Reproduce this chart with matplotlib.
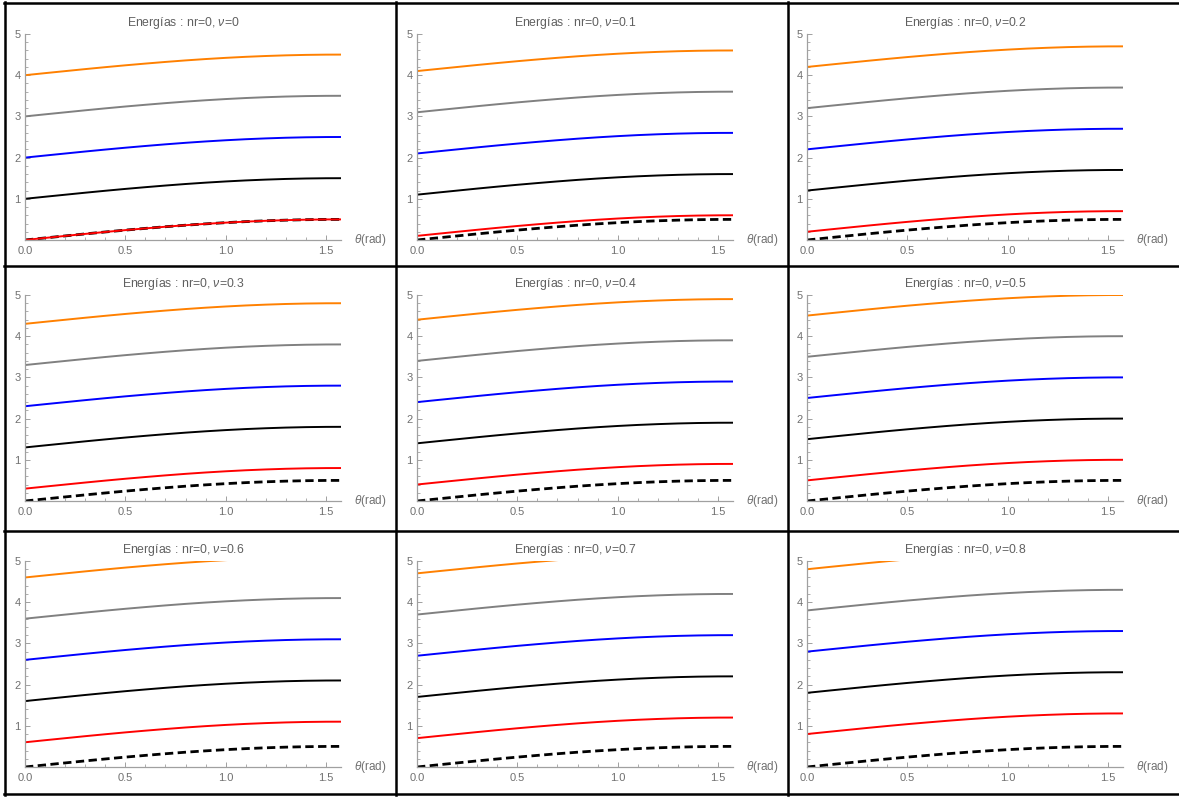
import numpy as np
import matplotlib
matplotlib.use("Agg")
import matplotlib.pyplot as plt
from matplotlib.ticker import MultipleLocator

plt.rcParams['font.family'] = ['Liberation Sans', 'DejaVu Sans']
plt.rcParams['mathtext.fontset'] = 'custom'
plt.rcParams['mathtext.rm'] = 'Liberation Sans'
plt.rcParams['mathtext.it'] = 'Liberation Sans:italic'

# sampled angle (rad) and the lowest (dashed) curve
theta = [0.0, 0.1, 0.2, 0.3, 0.4, 0.5, 0.6, 0.7, 0.8, 0.9, 1.0,
         1.1, 1.2, 1.3, 1.4, 1.5, 1.5708]
base = [0.000, 0.050, 0.099, 0.148, 0.195, 0.240, 0.282, 0.322, 0.359,
        0.392, 0.421, 0.446, 0.466, 0.482, 0.493, 0.499, 0.500]

nu_values = [0, 0.1, 0.2, 0.3, 0.4, 0.5, 0.6, 0.7, 0.8]
nu_labels = ["0", "0.1", "0.2", "0.3", "0.4", "0.5", "0.6", "0.7", "0.8"]
levels = [0, 1, 2, 3, 4]
level_colors = ["#ff0000", "#000000", "#0000ff", "#808080", "#ff8000"]

W, H = 1179, 797
fig = plt.figure(figsize=(W / 100, H / 100), dpi=100)

# pixel positions of each panel origin
x_orig = [25, 417, 807]
y_orig = [240, 501, 767]
ax_w, ax_h = 316, 206

th = np.array(theta)
b = np.array(base)

for k, nu in enumerate(nu_values):
    r, c = divmod(k, 3)
    ax = fig.add_axes([x_orig[c] / W, 1 - y_orig[r] / H, ax_w / W, ax_h / H])

    ax.plot(th, b, color="black", lw=2.0, ls=(0, (3, 1.6)))
    for lev, col in zip(levels, level_colors):
        ax.plot(th, b + lev + nu, color=col, lw=1.4)

    ax.set_xlim(0, 1.575)
    ax.set_ylim(0, 5)
    for s in ["top", "right"]:
        ax.spines[s].set_visible(False)
    for s in ["left", "bottom"]:
        ax.spines[s].set_color("#a0a0a0")
        ax.spines[s].set_linewidth(0.9)

    ax.xaxis.set_minor_locator(MultipleLocator(0.1))
    ax.yaxis.set_minor_locator(MultipleLocator(0.2))
    ax.set_xticks([0, 0.5, 1.0, 1.5])
    ax.set_xticklabels(["0.0", "0.5", "1.0", "1.5"])
    ax.set_yticks([1, 2, 3, 4, 5])
    ax.set_yticklabels(["1", "2", "3", "4", "5"])
    ax.tick_params(which="major", direction="in", length=3.5, width=0.7,
                   color="#a0a0a0", labelcolor="#707070", labelsize=8)
    ax.tick_params(which="minor", direction="in", length=2, width=0.6,
                   color="#a0a0a0")
    ax.tick_params(axis="x", which="major", pad=4)
    ax.tick_params(axis="y", which="major", pad=3)

    ax.set_title(f"Energías : nr=0, $\\nu$={nu_labels[k]}", fontsize=8.8,
                 color="#606060", pad=6)
    ax.annotate(r"$\theta$(rad)", xy=(1, 0), xycoords="axes fraction",
                xytext=(9, 0), textcoords="offset points",
                ha="left", va="center", fontsize=8.5, color="#707070")

# grid frame
def hline(y, x0, x1):
    fig.add_artist(plt.Line2D([x0 / W, x1 / W], [1 - y / H, 1 - y / H],
                              transform=fig.transFigure, color="black", lw=1.8))

def vline(x, y0, y1):
    fig.add_artist(plt.Line2D([x / W, x / W], [1 - y0 / H, 1 - y1 / H],
                              transform=fig.transFigure, color="black", lw=1.8))

for y in [3, 266, 531, 794]:
    hline(y, 4, 1179)
for x in [5, 396, 788]:
    vline(x, 2, 795)

fig.savefig("out.png", dpi=100)
